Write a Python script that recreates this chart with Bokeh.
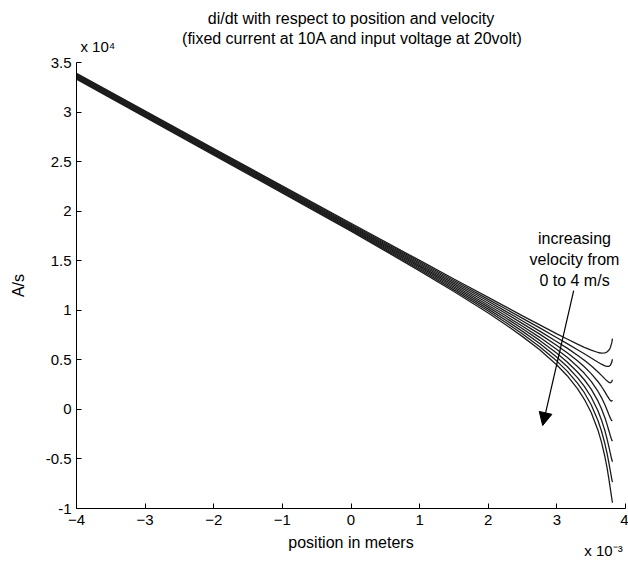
from bokeh.plotting import figure
from bokeh.models import Range1d, FixedTicker, Label, Arrow, NormalHead, Title, LinearAxis
from bokeh.embed import file_html
from bokeh.resources import INLINE

# position (x 1e-3 m)
position = [-4, -2, 0, 1, 1.5, 2, 2.25, 2.5, 2.75, 3.0, 3.15, 3.3, 3.4, 3.5, 3.6, 3.65, 3.7, 3.73, 3.76, 3.78, 3.8, 3.81]
# velocity of each curve (m/s)
velocity = [0, 0.5, 1, 1.5, 2, 2.5, 3, 3.5, 4]
# di/dt (x 1e4 A/s), one list per velocity
didt_v0_0 = [3.390, 2.632, 1.878, 1.503, 1.316, 1.130, 1.037, 0.944, 0.853, 0.762, 0.710, 0.658, 0.626, 0.597, 0.574, 0.568, 0.570, 0.579, 0.599, 0.625, 0.673, 0.713]
didt_v0_5 = [3.383, 2.624, 1.868, 1.490, 1.300, 1.110, 1.015, 0.918, 0.822, 0.723, 0.664, 0.602, 0.561, 0.518, 0.476, 0.456, 0.439, 0.433, 0.435, 0.446, 0.477, 0.506]
didt_v1_0 = [3.376, 2.616, 1.858, 1.477, 1.285, 1.091, 0.992, 0.892, 0.790, 0.683, 0.618, 0.546, 0.495, 0.440, 0.378, 0.343, 0.308, 0.288, 0.272, 0.268, 0.280, 0.299]
didt_v1_5 = [3.368, 2.607, 1.849, 1.464, 1.269, 1.071, 0.970, 0.865, 0.759, 0.644, 0.571, 0.490, 0.430, 0.361, 0.279, 0.231, 0.177, 0.142, 0.108, 0.089, 0.084, 0.093]
didt_v2_0 = [3.361, 2.599, 1.839, 1.451, 1.253, 1.051, 0.947, 0.839, 0.727, 0.605, 0.525, 0.433, 0.364, 0.283, 0.181, 0.119, 0.046, -0.003, -0.056, -0.090, -0.113, -0.114]
didt_v2_5 = [3.354, 2.591, 1.829, 1.438, 1.237, 1.032, 0.925, 0.813, 0.696, 0.566, 0.479, 0.377, 0.299, 0.204, 0.083, 0.007, -0.085, -0.149, -0.220, -0.268, -0.310, -0.321]
didt_v3_0 = [3.347, 2.583, 1.819, 1.424, 1.222, 1.012, 0.902, 0.787, 0.664, 0.526, 0.433, 0.321, 0.233, 0.125, -0.016, -0.106, -0.216, -0.294, -0.384, -0.447, -0.506, -0.528]
didt_v3_5 = [3.340, 2.575, 1.809, 1.411, 1.206, 0.993, 0.880, 0.761, 0.633, 0.487, 0.386, 0.265, 0.168, 0.047, -0.114, -0.218, -0.347, -0.440, -0.547, -0.625, -0.703, -0.735]
didt_v4_0 = [3.332, 2.566, 1.799, 1.398, 1.190, 0.973, 0.857, 0.734, 0.602, 0.448, 0.340, 0.209, 0.102, -0.032, -0.212, -0.330, -0.478, -0.585, -0.711, -0.804, -0.899, -0.942]
curves = [didt_v0_0, didt_v0_5, didt_v1_0, didt_v1_5, didt_v2_0,
          didt_v2_5, didt_v3_0, didt_v3_5, didt_v4_0]

x_ticks = [-4, -3, -2, -1, 0, 1, 2, 3, 4]
x_tick_labels = ["\u22124", "\u22123", "\u22122", "\u22121", "0", "1", "2", "3", "4"]
y_ticks = [-1, -0.5, 0, 0.5, 1, 1.5, 2, 2.5, 3, 3.5]
y_tick_labels = ["-1", "-0.5", "0", "0.5", "1", "1.5", "2", "2.5", "3", "3.5"]

title_line1 = "di/dt with respect to position and velocity"
title_line2 = "(fixed current at 10A and input voltage at 20volt)"
x_label = "position in meters"
y_label = "A/s"
y_multiplier = "x 10\u2074"
x_multiplier = "x 10\u207b\u00b3"
note_lines = ["increasing", "velocity from", "0 to 4 m/s"]
note_x = 3.257
note_y = [1.724, 1.512, 1.300]
arrow_start = (3.245, 1.198)
arrow_end = (2.793, -0.163)

FONT = "Liberation Sans"

p = figure(width=628, height=563, output_backend="svg", toolbar_location=None,
           x_range=Range1d(-4, 4), y_range=Range1d(-1, 3.5),
           min_border_left=76, min_border_right=3, min_border_top=62, min_border_bottom=55)
p.background_fill_color = "white"
p.border_fill_color = "white"
p.outline_line_color = None
p.grid.visible = False

for ys in curves:
    p.line(position, ys, line_color="#1c1c1c", line_width=1.3)

# main axes
for ax in (p.xaxis[0], p.yaxis[0]):
    ax.axis_line_color = "black"
    ax.major_tick_line_color = "black"
    ax.major_tick_in = 5
    ax.major_tick_out = 0
    ax.minor_tick_line_color = None
    ax.major_label_text_font = FONT
    ax.major_label_text_font_size = "15px"
    ax.major_label_text_color = "black"
    ax.axis_label_text_font = FONT
    ax.axis_label_text_font_size = "16px"
    ax.axis_label_text_font_style = "normal"
    ax.axis_label_text_color = "black"

p.xaxis.ticker = FixedTicker(ticks=x_ticks)
p.xaxis.major_label_overrides = {t: s for t, s in zip(x_ticks, x_tick_labels)}
p.yaxis.ticker = FixedTicker(ticks=y_ticks)
p.yaxis.major_label_overrides = {t: s for t, s in zip(y_ticks, y_tick_labels)}
p.yaxis.axis_label = y_label
p.xaxis.major_label_standoff = 6
p.yaxis.major_label_standoff = 5
p.yaxis.axis_label_standoff = 16


def text_axis(ticks, labels, size, standoff):
    ax = LinearAxis(ticker=FixedTicker(ticks=ticks),
                    major_label_overrides={t: s for t, s in zip(ticks, labels)},
                    axis_line_color=None, major_tick_line_color=None,
                    minor_tick_line_color=None, major_tick_in=0, major_tick_out=0,
                    major_label_standoff=standoff, major_label_text_font=FONT,
                    major_label_text_font_size=size, major_label_text_color="black")
    return ax


# below: "position in meters" then the x 10^-3 multiplier (pulled up onto the same band)
p.add_layout(text_axis([0.0], [x_label], "16px", 6), "below")
p.add_layout(text_axis([3.68], [x_multiplier], "15px", -12), "below")

# above: y multiplier nearest the frame, then title line 2 pulled down, then title line 1
p.add_layout(text_axis([-3.69], [y_multiplier], "15px", 8), "above")
p.add_layout(text_axis([0.02], [title_line2], "16px", -12), "above")
p.add_layout(Title(text=title_line1, align="center", text_font=FONT, text_font_size="16px",
                   text_font_style="normal", text_color="black", standoff=0), "above")

for txt, yy in zip(note_lines, note_y):
    p.add_layout(Label(x=note_x, y=yy, text=txt, text_font=FONT, text_font_size="16px",
                       text_align="center", text_baseline="middle", text_color="black"))

p.add_layout(Arrow(end=NormalHead(size=13, fill_color="black", line_color="black"),
                   x_start=arrow_start[0], y_start=arrow_start[1],
                   x_end=arrow_end[0], y_end=arrow_end[1],
                   line_color="black", line_width=1.2))

open("out.html", "w").write(file_html(p, INLINE))
